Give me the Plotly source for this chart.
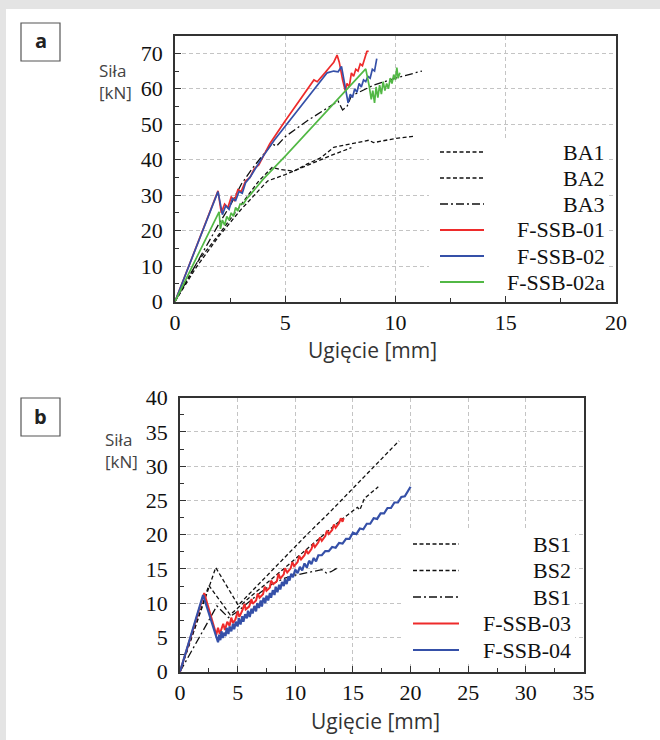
import plotly.graph_objects as go

W, H = 660, 740

# ---------------- Panel a data ----------------
ba1_x = [0, 1.0, 2.0, 3.0, 3.8, 4.4, 4.8, 5.4, 6.0, 6.6, 7.2, 8.0, 8.8, 9.0, 9.5, 10.0, 10.8]
ba1_y = [0, 11, 19, 27.5, 34, 37.8, 37.2, 36.8, 38.8, 40.5, 43.5, 44.5, 45.5, 44.8, 45.5, 46.0, 46.6]

ba2_x = [0, 1.0, 2.0, 3.0, 3.6, 4.2, 5.0, 6.0, 7.0, 8.0]
ba2_y = [0, 10, 18.5, 26, 30, 34, 35.8, 38.5, 41, 43.4]

ba3_x = [0, 1.0, 2.0, 2.5, 3.0, 3.5, 4.0, 4.4, 4.6, 5.0, 6.0, 7.0, 7.4, 7.6, 7.8, 8.0, 9.0, 10.0, 11.2]
ba3_y = [0, 11, 22, 27, 33, 37.5, 41.5, 44.5, 43.8, 46.5, 51, 55, 56.5, 54, 55, 58, 61, 63, 65]

f01_x = [0, 1.95, 2.1, 2.25, 2.4, 2.55, 2.7, 2.85, 3.0, 3.2, 3.4, 3.6, 3.8, 4.0, 4.3, 5.0, 5.5,
         6.0, 6.3, 6.45, 6.6, 6.8, 7.0, 7.2, 7.35, 7.45, 7.6, 7.72, 7.8, 7.9, 8.0, 8.1, 8.2,
         8.3, 8.4, 8.5, 8.6, 8.7, 8.78]
f01_y = [0, 31.2, 25.0, 27.5, 26.5, 29.5, 28.5, 31.5, 31, 34, 35, 37.5, 38.5, 41, 44.5, 51, 55.5,
         60, 62.5, 62.0, 63.2, 64.5, 66, 67.5, 69.5, 67.5, 62.5, 59.5, 61.5, 60.5, 64.5, 63.5, 65.5,
         65, 67, 66.5, 68.5, 70.5, 70.6]

f02_x = [0, 1.95, 2.15, 2.3, 2.45, 2.6, 2.75, 2.9, 3.05, 3.2, 3.4, 3.6, 3.8, 4.0, 4.5, 5.0, 5.5,
         6.0, 6.5, 6.9, 7.2, 7.4, 7.55, 7.7, 7.85, 7.95, 8.05, 8.15, 8.25, 8.35, 8.45, 8.55, 8.65,
         8.75, 8.85, 8.95, 9.05, 9.15]
f02_y = [0, 31.0, 24.5, 27, 26, 29, 28.5, 31, 30.5, 33.5, 35, 37, 39, 41, 45.5, 49.5, 53.5,
         57.5, 61.5, 64.5, 65, 64.8, 66.3, 61, 56, 58.5, 57.5, 60, 59, 61.5, 60.5, 62.5, 62,
         63.5, 63, 65.5, 65, 68.5]

f02a_x = [0, 2.0, 2.06, 2.15, 2.25, 2.35, 2.45, 2.55, 2.65, 2.75, 2.85, 2.95, 3.1, 3.25, 3.4, 3.6,
          3.8, 4.0, 5.0, 6.0, 7.0, 8.0, 8.65, 8.8, 8.9, 8.97, 9.05, 9.12, 9.2, 9.28, 9.36, 9.44,
          9.52, 9.6, 9.68, 9.76, 9.84, 9.92, 10.0, 10.06, 10.12, 10.2]
f02a_y = [0, 25.3, 20.5, 23, 21.5, 24, 23, 25, 24, 26.5, 25.5, 27.5, 27.5, 29, 30, 31.5,
          33, 34.5, 41, 47.8, 54.5, 61.2, 65.6, 61, 57, 59.5, 56, 60.5, 57.5, 61, 58.5, 62,
          59.5, 61.5, 60, 63, 61.5, 64, 62.5, 66, 63, 64.5]

# ---------------- Panel b data ----------------
bs1_x = [0, 3.1, 5.05, 7, 9, 11, 13, 15, 17, 19]
bs1_y = [0, 15.2, 9.7, 13.1, 16.5, 20, 23.3, 26.8, 30.3, 33.7]

bs2_x = [0, 2.5, 4.35, 6, 8, 10, 12, 14, 15.4, 15.6, 16.0, 17.2]
bs2_y = [0, 12.6, 8.3, 10.8, 13.6, 16.5, 19.4, 22.2, 24.0, 23.6, 25.3, 27.0]

bs1b_x = [0, 3.2, 4.2, 5, 6, 7, 8, 9, 10, 11.3, 12.3, 12.7, 13.1, 13.6]
bs1b_y = [0, 9.6, 7.9, 8.8, 10.2, 11.6, 12.8, 13.6, 14.1, 14.6, 14.9, 14.4, 14.6, 15.1]

f03_x = [0, 2.1, 3.15, 3.3, 3.45, 3.6, 3.75, 3.9, 4.1, 4.3, 4.45, 4.6, 4.8, 5.0, 5.15, 5.4, 5.6,
         5.7, 6.0, 6.2, 6.3, 6.6, 6.75, 6.9, 7.2, 7.35, 7.5, 7.8, 7.9, 8.1, 8.4, 8.55, 8.7, 9.0,
         9.1, 9.3, 9.6, 9.75, 9.9, 10.2, 10.35, 10.5, 10.8, 10.95, 11.1, 11.4, 11.55, 11.7, 12.0,
         12.15, 12.3, 12.6, 12.75, 12.9, 13.2, 13.35, 13.5, 13.8, 13.95, 14.1, 14.2]
f03_y = [0, 11.5, 5.4, 6.4, 5.5, 6.2, 7.0, 6.1, 7.3, 6.7, 7.9, 7.1, 7.6, 8.8, 8.0, 8.9, 9.9,
         9.1, 9.5, 10.6, 9.9, 10.4, 11.4, 10.8, 11.3, 12.4, 11.8, 12.3, 13.3, 12.8, 13.2, 14.3, 13.6, 14.2,
         15.1, 14.5, 15.1, 16.0, 15.4, 16.0, 16.9, 16.4, 17.0, 17.8, 17.2, 17.9, 18.7, 18.2, 18.9,
         19.6, 19.1, 19.8, 20.6, 20.1, 20.7, 21.5, 21.0, 21.7, 22.4, 21.9, 22.4]

f04_x = [0, 2.0, 3.3, 3.4, 3.5, 3.6, 3.7, 3.8, 3.95, 4.05, 4.2, 4.3, 4.45, 4.6, 4.7, 4.85, 5.0,
         5.1, 5.25, 5.4, 5.5, 5.65, 5.8, 5.9, 6.05, 6.2, 6.3, 6.45, 6.6, 6.7, 6.85, 7.0, 7.1, 7.25,
         7.4, 7.5, 7.65, 7.8, 7.9, 8.05, 8.2, 8.3, 8.45, 8.6, 8.7, 8.85, 9.0, 9.1, 9.25, 9.4, 9.5,
         9.65, 9.8, 10.0, 10.2, 10.4, 10.6, 10.8, 11.0, 11.2, 11.4, 11.6, 11.8, 12.0, 12.3, 12.6,
         12.9, 13.2, 13.5, 13.8, 14.1, 14.4, 14.7, 15.0, 15.3, 15.6, 15.9, 16.2, 16.5, 16.8, 17.1,
         17.4, 17.7, 18.0, 18.3, 18.6, 18.9, 19.2, 19.5, 19.8, 20.0]
f04_y = [0, 11.2, 4.3, 5.4, 4.6, 5.9, 4.9, 5.7, 5.2, 6.4, 5.5, 6.6, 5.9, 7.0, 6.2, 7.3, 6.6,
         7.8, 6.9, 8.1, 7.3, 8.4, 7.8, 8.9, 8.0, 9.2, 8.5, 9.6, 8.8, 10.0, 9.3, 10.4, 9.5, 10.8,
         10.0, 11.1, 10.4, 11.5, 10.8, 11.9, 11.2, 12.4, 11.6, 12.7, 12.0, 13.1, 12.5, 13.5, 12.8, 13.9,
         13.3, 14.3, 13.8, 14.9, 14.4, 15.3, 14.8, 15.8, 15.2, 16.2, 15.7, 16.6, 16.1, 17.0, 17.0, 17.6,
         17.6, 18.2, 18.1, 18.8, 18.7, 19.4, 19.4, 20.3, 20.1, 20.9, 20.8, 21.6, 21.6, 22.4, 22.3,
         23.1, 23.1, 23.9, 23.9, 24.7, 24.7, 25.5, 25.6, 26.4, 27.0]

legend_a = ["BA1", "BA2", "BA3", "F-SSB-01", "F-SSB-02", "F-SSB-02a"]
legend_b = ["BS1", "BS2", "BS1", "F-SSB-03", "F-SSB-04"]

x_ticks_a = [0, 5, 10, 15, 20]
y_ticks_a = [0, 10, 20, 30, 40, 50, 60, 70]
x_ticks_b = [0, 5, 10, 15, 20, 25, 30, 35]
y_ticks_b = [0, 5, 10, 15, 20, 25, 30, 35, 40]

RED, BLUE, GREEN, BLACK = "#ee2b2b", "#3550a8", "#52b845", "#111111"
DASH = "4px,2.5px"
DASHDOT = "8px,3px,2px,3px"


def fx(p):
    return p / W


def fy(p):
    return 1 - p / H


fig = go.Figure()

series_a = [
    (ba1_x, ba1_y, BLACK, DASH, 1.3),
    (ba2_x, ba2_y, BLACK, DASH, 1.3),
    (ba3_x, ba3_y, BLACK, DASHDOT, 1.3),
    (f01_x, f01_y, RED, "solid", 1.7),
    (f02_x, f02_y, BLUE, "solid", 1.7),
    (f02a_x, f02a_y, GREEN, "solid", 1.7),
]
for (xs, ys, c, d, w), name in zip(series_a, legend_a):
    fig.add_trace(go.Scatter(x=xs, y=ys, mode="lines", name=name, showlegend=False,
                             line=dict(color=c, dash=d, width=w), xaxis="x", yaxis="y"))

series_b = [
    (bs1_x, bs1_y, BLACK, DASH, 1.3),
    (bs2_x, bs2_y, BLACK, DASH, 1.3),
    (bs1b_x, bs1b_y, BLACK, DASHDOT, 1.3),
    (f03_x, f03_y, RED, "solid", 2.0),
    (f04_x, f04_y, BLUE, "solid", 2.2),
]
for (xs, ys, c, d, w), name in zip(series_b, legend_b):
    fig.add_trace(go.Scatter(x=xs, y=ys, mode="lines", name=name, showlegend=False,
                             line=dict(color=c, dash=d, width=w), xaxis="x2", yaxis="y2"))

tickfont = dict(family="Liberation Serif, Times New Roman, serif", size=22, color="#111")
common = dict(showline=True, linecolor="#333", linewidth=1.5, mirror=True,
              ticks="inside", ticklen=6, tickwidth=1, tickcolor="#333",
              showgrid=True, gridcolor="#c4c4c4", griddash="4px,3px", gridwidth=1,
              zeroline=False, tickfont=tickfont, fixedrange=True, automargin=False)

fig.update_layout(
    width=W, height=H,
    autosize=False,
    margin=dict(l=0, r=0, t=0, b=0, pad=0),
    paper_bgcolor="#e4e4e4",
    plot_bgcolor="white",
    showlegend=False,
    xaxis=dict(domain=[fx(175), fx(616)], range=[0, 20], tickvals=x_ticks_a,
               minor=dict(dtick=2.5, tick0=0, ticks="inside", ticklen=4, tickcolor="#333", showgrid=False),
               anchor="y", **common),
    yaxis=dict(domain=[fy(301.5), fy(35.6)], range=[0, 75], tickvals=y_ticks_a,
               minor=dict(dtick=5, tick0=0, ticks="inside", ticklen=4, tickcolor="#333", showgrid=False),
               anchor="x", ticklabelstandoff=6, **common),
    xaxis2=dict(domain=[fx(180), fx(583.5)], range=[0, 35], tickvals=x_ticks_b,
                minor=dict(dtick=2.5, tick0=0, ticks="inside", ticklen=4, tickcolor="#333", showgrid=False),
                anchor="y2", **common),
    yaxis2=dict(domain=[fy(671.7), fy(397.7)], range=[0, 40], tickvals=y_ticks_b,
                minor=dict(dtick=2.5, tick0=0, ticks="inside", ticklen=4, tickcolor="#333", showgrid=False),
                anchor="x2", ticklabelstandoff=6, **common),
)

shapes = []
annotations = []

# white panel
shapes.append(dict(type="rect", xref="paper", yref="paper", x0=fx(6), x1=1, y0=0, y1=fy(9),
                   fillcolor="white", line=dict(width=0), layer="below"))

# panel label boxes
for lab, (bx0, by0, bx1, by1) in zip(["a", "b"], [(21, 23, 60, 61), (21, 398, 60, 436)]):
    shapes.append(dict(type="rect", xref="paper", yref="paper", x0=fx(bx0), x1=fx(bx1),
                       y0=fy(by1), y1=fy(by0), fillcolor="white",
                       line=dict(color="#555", width=1.2), layer="above"))
    annotations.append(dict(text="<b>%s</b>" % lab, xref="paper", yref="paper",
                            x=fx((bx0 + bx1) / 2), y=fy((by0 + by1) / 2 - 1), showarrow=False,
                            xanchor="center", yanchor="middle",
                            font=dict(family="Open Sans, sans-serif", size=20, color="#222")))

# axis titles
title_font = dict(family="Open Sans, sans-serif", size=21, color="#333")
ylab_font = dict(family="Open Sans, sans-serif", size=17, color="#444")
annotations.append(dict(text="Ugięcie [mm]", xref="paper", yref="paper", x=fx(372), y=fy(350),
                        showarrow=False, xanchor="center", yanchor="middle", font=title_font))
annotations.append(dict(text="Ugięcie [mm]", xref="paper", yref="paper", x=fx(375), y=fy(721),
                        showarrow=False, xanchor="center", yanchor="middle", font=title_font))
annotations.append(dict(text="Siła<br>[kN]", xref="paper", yref="paper", x=fx(97), y=fy(82),
                        showarrow=False, xanchor="left", yanchor="middle", align="left", font=ylab_font))
annotations.append(dict(text="Siła<br>[kN]", xref="paper", yref="paper", x=fx(103), y=fy(450),
                        showarrow=False, xanchor="left", yanchor="middle", align="left", font=ylab_font))

# manual legends
leg_font = dict(family="Liberation Serif, Times New Roman, serif", size=22, color="#111")


def add_legend(names, styles, bg, sw_x0, sw_x1, text_right, row0, step):
    shapes.append(dict(type="rect", xref="paper", yref="paper", x0=fx(bg[0]), x1=fx(bg[2]),
                       y0=fy(bg[3]), y1=fy(bg[1]), fillcolor="white", line=dict(width=0),
                       layer="above"))
    for i, (name, (c, d, w)) in enumerate(zip(names, styles)):
        yy = row0 + step * i
        shapes.append(dict(type="line", xref="paper", yref="paper", x0=fx(sw_x0), x1=fx(sw_x1),
                           y0=fy(yy), y1=fy(yy), line=dict(color=c, dash=d, width=max(w, 2.0) if d == "solid" else 1.6),
                           layer="above"))
        annotations.append(dict(text=name, xref="paper", yref="paper", x=fx(text_right), y=fy(yy),
                                showarrow=False, xanchor="right", yanchor="middle", font=leg_font))


add_legend(legend_a, [(s[2], s[3], s[4]) for s in series_a], (429, 138, 608, 296),
           440, 484, 607, 152, 26)
add_legend(legend_b, [(s[2], s[3], s[4]) for s in series_b], (404, 529, 575, 664),
           413, 459, 573, 544, 26.5)

fig.update_layout(shapes=shapes, annotations=annotations)

fig.write_html("out.html", config={"displayModeBar": False},
               post_script="document.body.style.margin='0';document.body.style.padding='0';"
                           "document.documentElement.style.overflow='hidden';")
